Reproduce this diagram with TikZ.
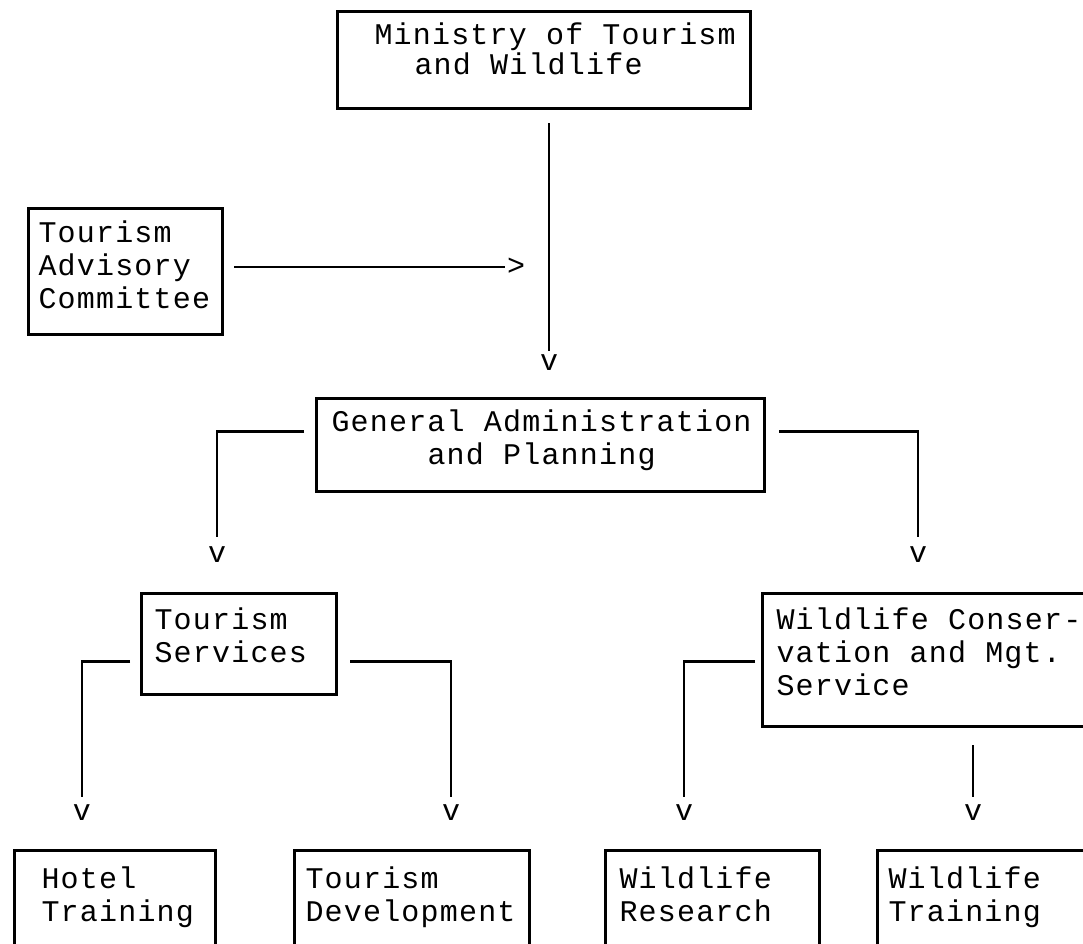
\documentclass[tikz,border=0pt]{standalone}
\usepackage{fontspec}
\newfontfamily\twfont[LetterSpace=4]{Liberation Mono}
\newcommand\twsize{\fontsize{30}{33}\selectfont}
\newcommand\twsizemin{\fontsize{30}{30}\selectfont}
\newcommand\twgap{\kern19.2pt\relax}
\begin{document}
\begin{tikzpicture}[x=1pt,y=-1pt,
  box/.style={draw, line width=3pt, align=left, anchor=north west,
              inner xsep=0pt, inner ysep=0pt, font=\twfont\twsize},
  conn/.style={line width=2.8pt},
  tip/.style={inner sep=0pt, font=\twfont\twsize}]
\useasboundingbox (0,0) rectangle (1083,943);
\clip (0,0) rectangle (1083,943);

% boxes
\node[box, text width=413pt, text height=33pt, text depth=64pt,
      font=\twfont\twsizemin] (min) at (336,10)
  {\hspace*{37pt}Ministry\twgap of\twgap Tourism\\\hspace*{77pt}and\twgap Wildlife};
\node[box, text width=194pt, text height=34pt, text depth=92pt] (com) at (27,207)
  {\hspace*{10pt}Tourism\\\hspace*{10pt}Advisory\\\hspace*{10pt}Committee};
\node[box, text width=448pt, text height=33pt, text depth=60pt] (ga) at (315,397)
  {\hspace*{15pt}General\twgap Administration\\\hspace*{111pt}and\twgap Planning};
\node[box, text width=195pt, text height=36pt, text depth=65pt] (ts) at (140,592)
  {\hspace*{13pt}Tourism\\\hspace*{13pt}Services};
\node[box, text width=340pt, text height=36pt, text depth=97pt] (wc) at (761,592)
  {\hspace*{14pt}Wildlife\twgap Conser-\\\hspace*{14pt}vation\twgap and\twgap Mgt.\\\hspace*{14pt}Service};
\node[box, text width=201pt, text height=38pt, text depth=84pt] (ht) at (13,849)
  {\hspace*{27pt}Hotel\\\hspace*{27pt}Training};
\node[box, text width=235pt, text height=38pt, text depth=84pt] (td) at (293,849)
  {\hspace*{11pt}Tourism\\\hspace*{11pt}Development};
\node[box, text width=214pt, text height=38pt, text depth=84pt] (wr) at (604,849)
  {\hspace*{14pt}Wildlife\\\hspace*{14pt}Research};
\node[box, text width=230pt, text height=38pt, text depth=84pt] (wt) at (876,849)
  {\hspace*{11pt}Wildlife\\\hspace*{11pt}Training};

% typed arrow heads
\node[tip] (v0) at (549,363) {v};
\node[tip] (gt) at (516,267) {>};
\node[tip] (v1) at (217,555) {v};
\node[tip] (v2) at (918,555) {v};
\node[tip] (v3) at (82,813) {v};
\node[tip] (v4) at (451,813) {v};
\node[tip] (v5) at (684,813) {v};
\node[tip] (v6) at (973,813) {v};

% connectors
\draw[conn, shorten <=13pt, shorten >=4pt] (min.south -| v0) -- (v0.north);
\draw[conn, shorten <=10pt, shorten >=2pt] (com.east |- gt) -- (gt.west);
\draw[conn, shorten <=11pt, shorten >=10pt] ([yshift=13.5pt]ga.west) -| (v1.north);
\draw[conn, shorten <=13pt, shorten >=10pt] ([yshift=13.5pt]ga.east) -| (v2.north);
\draw[conn, shorten <=10pt, shorten >=8pt] ([yshift=-17.5pt]ts.west) -| (v3.north);
\draw[conn, shorten <=12pt, shorten >=8pt] ([yshift=-17.5pt]ts.east) -| (v4.north);
\draw[conn, shorten <=6pt, shorten >=8pt] ([yshift=-1.5pt]wc.west) -| (v5.north);
\draw[conn, shorten <=17pt, shorten >=8pt] (wc.south -| v6) -- (v6.north);
\end{tikzpicture}
\end{document}
